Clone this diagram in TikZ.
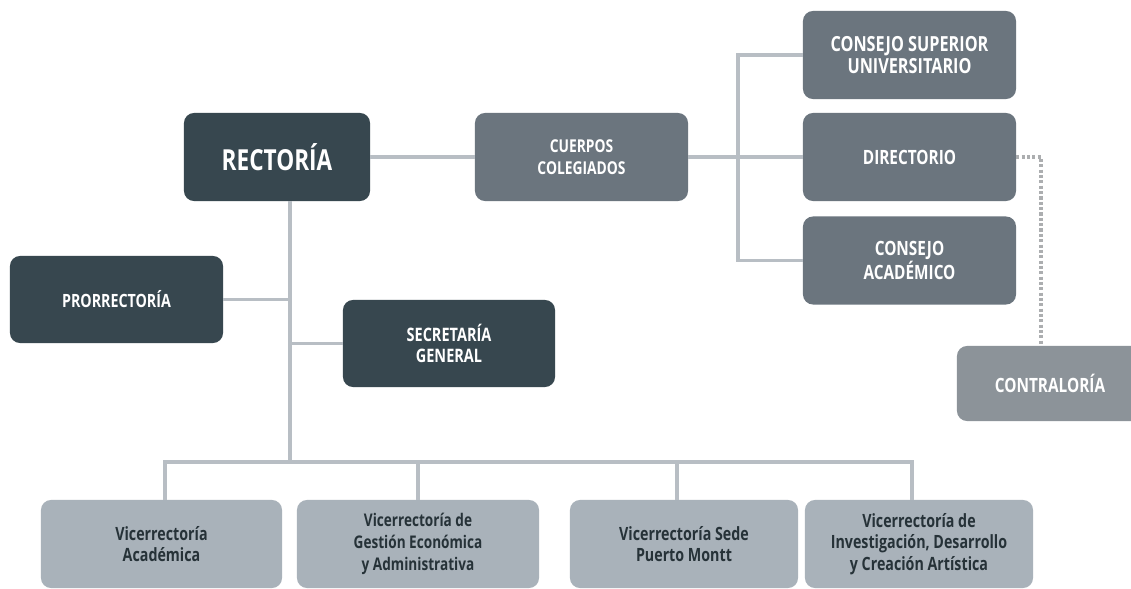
\documentclass[tikz,border=0pt]{standalone}
\usepackage{fontspec}
\setmainfont[FakeStretch=0.78]{Open Sans}
\usetikzlibrary{positioning}
\definecolor{darkbox}{RGB}{55,71,79}
\definecolor{midbox}{RGB}{107,117,126}
\definecolor{palebox}{RGB}{140,147,153}
\definecolor{lightbox}{RGB}{169,178,186}
\definecolor{linkgray}{RGB}{184,190,196}
\definecolor{dotgray}{RGB}{172,174,176}
\definecolor{textdark}{RGB}{38,50,56}
\newcommand{\boxfont}[1]{\bfseries\fontsize{#1}{15.5}\selectfont}

\begin{document}
\begin{tikzpicture}[x=0.025cm, y=-0.025cm,
    unit/.style = {rounded corners=0.25cm, align=center, inner sep=0pt, minimum height=2.2cm},
    top/.style = {unit, fill=darkbox, text=white, font=\boxfont{13.2}},
    body/.style = {unit, fill=midbox, text=white, font=\boxfont{14}, minimum width=5.325cm},
    vice/.style = {unit, fill=lightbox, text=textdark, font=\boxfont{13}},
    link/.style = {draw=linkgray, line width=2.6pt},
    dots/.style = {draw=dotgray, line width=2.2pt, dash pattern=on 2.2pt off 1.6pt}]
    \useasboundingbox (0,0) rectangle (1131,589);
    \clip (0,0) rectangle (1131,589);
    \fill[white] (0,0) rectangle (1131,589);
    % upper part
    \node[top, minimum width=4.65cm, font=\bfseries\fontsize{20.6}{22}\selectfont] (rec) at (277,157) {RECTORÍA};
    \node[body, font=\boxfont{12.6}] (cc) at (581.5,157) {CUERPOS\\COLEGIADOS};
    \node[body, font=\boxfont{14.8}] (csu) at (909.5,55) {CONSEJO SUPERIOR\\UNIVERSITARIO};
    \node[body] (dir) at (909.5,157) {DIRECTORIO};
    \node[body] (ca) at (909.5,260.5) {CONSEJO\\ACADÉMICO};
    \node[unit, fill=palebox, text=white, font=\boxfont{14},
          minimum width=4.65cm, minimum height=1.875cm] (con) at (1050,383.5) {CONTRALORÍA};
    \node[top, font=\boxfont{13}, minimum width=5.325cm, minimum height=2.175cm] (pro) at (116.5,299.5) {PRORRECTORÍA};
    \node[top, minimum width=5.3cm, minimum height=2.175cm] (sec) at (449,343.5) {SECRETARÍA\\GENERAL};
    % vicerrectorias
    \node[vice, minimum width=6.025cm] (va) at (161.5,544) {Vicerrectoría\\Académica};
    \node[vice, font=\boxfont{12.4}, minimum width=6.05cm] (vg) at (418,544) {Vicerrectoría de\\Gestión Económica\\y Administrativa};
    \node[vice, minimum width=5.7cm] (vp) at (684,544) {Vicerrectoría Sede\\Puerto Montt};
    \node[vice, minimum width=5.7cm] (vi) at (919,544) {Vicerrectoría de\\Investigación, Desarrollo\\y Creación Artística};
    \coordinate (cj) at (738,157);
    \coordinate (t) at (290,462);
    % connectors
    \draw[link] (rec) -- (cc);
    \draw[link] (cc) -- (dir);
    \draw[link] (csu.west) -| (cj) |- (ca.west);
    \draw[link] (rec.south -| t) -- (t);
    \draw[link] (pro.east) -- (pro.east -| t);
    \draw[link] (sec.west) -- (sec.west -| t);
    \draw[link] ([xshift=0.09cm]va.north) |- (t) -| ([xshift=-0.175cm]vi.north);
    \draw[link] (vg.north) -- (vg.north |- t);
    \draw[link] ([xshift=-0.175cm]vp.north) -- ([xshift=-0.175cm]vp.north |- t);
    \draw[dots] (dir.east) -| ([xshift=-0.225cm]con.north);
\end{tikzpicture}
\end{document}
